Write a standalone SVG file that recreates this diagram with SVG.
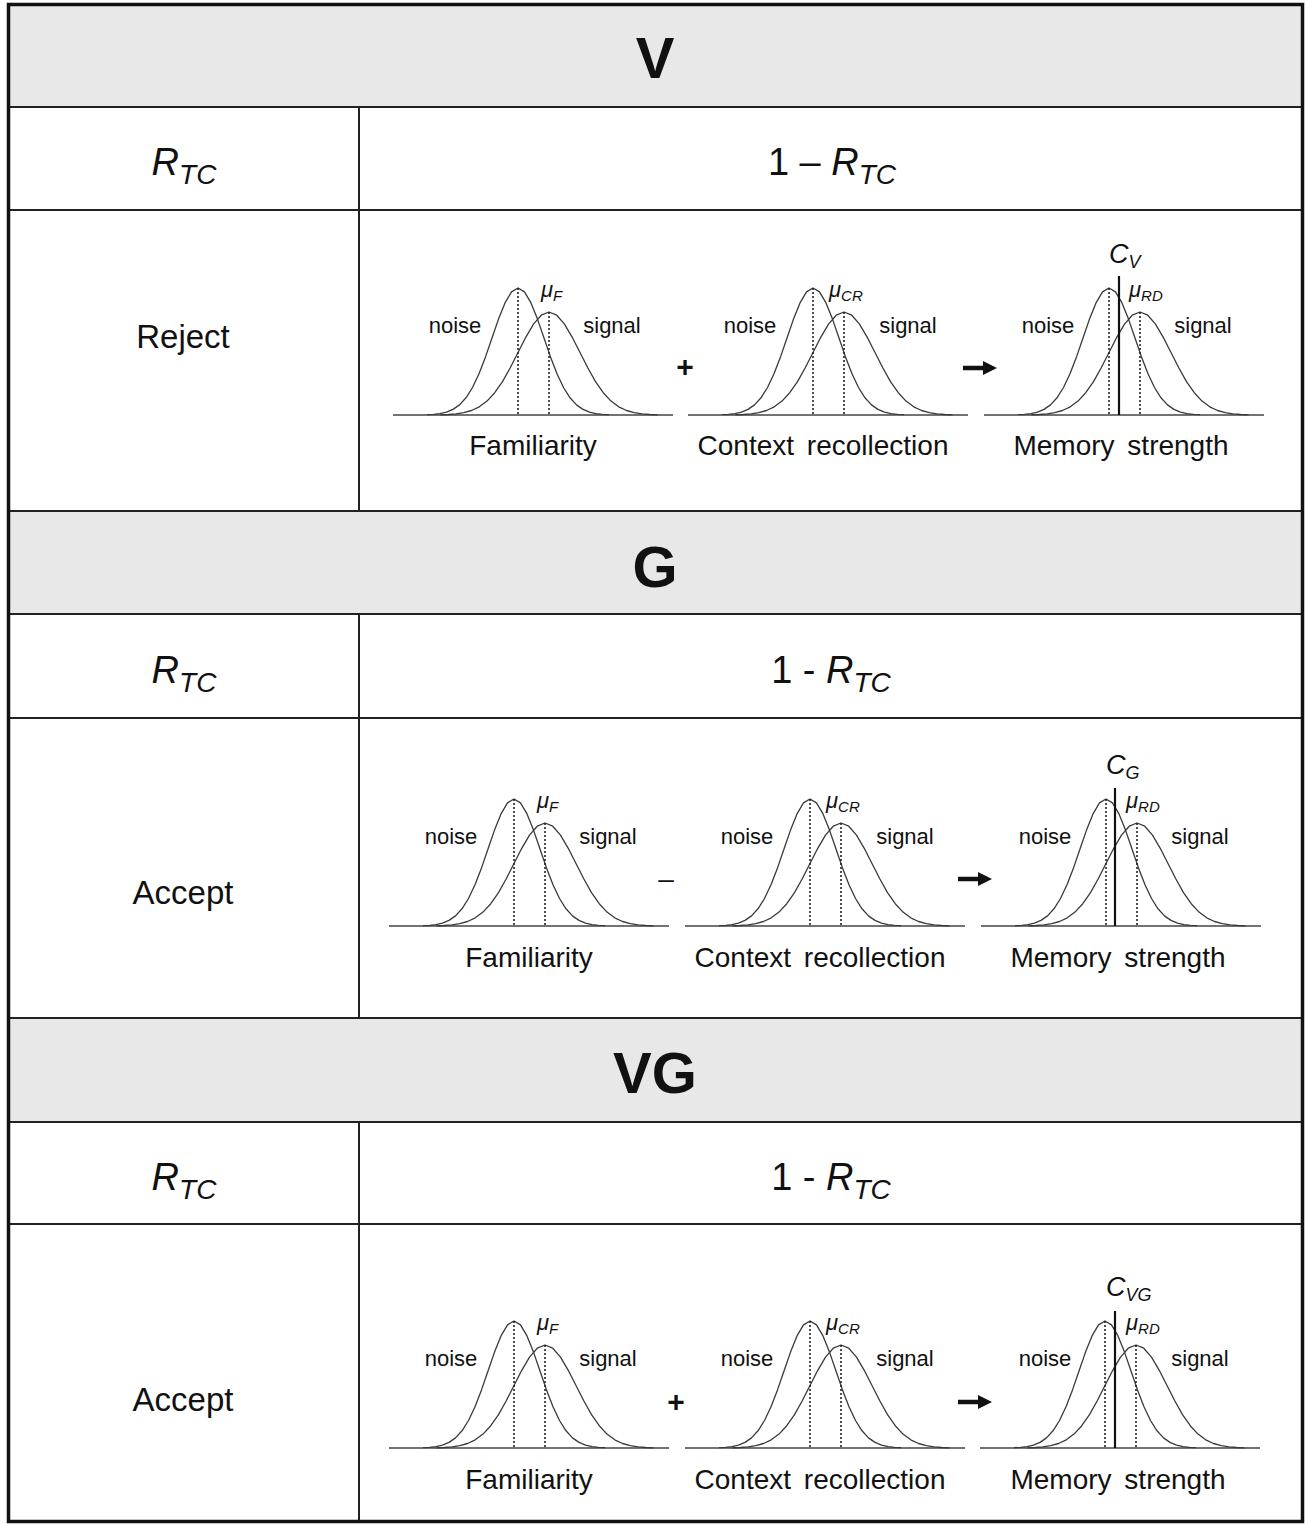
<svg xmlns="http://www.w3.org/2000/svg" xmlns:xlink="http://www.w3.org/1999/xlink" width="1307" height="1524" viewBox="0 0 1307 1524">
<style>
text{font-family:"Liberation Sans",Arial,sans-serif;fill:#111}
.hdr{font-size:58px;font-weight:bold;text-anchor:middle}
.rt{font-size:38px;font-style:italic}
.up{font-style:normal}
.sub{font-size:28px}
.row{font-size:33px;text-anchor:middle}
.ns{font-size:22px;text-anchor:middle}
.mu{font-size:22px;font-style:italic}
.mus{font-size:15px}
.cl{font-size:27px;font-style:italic}
.cls{font-size:18px}
.ax{font-size:28px;text-anchor:middle;word-spacing:5px}
.op{font-size:30px;text-anchor:middle;font-weight:bold}
.grid{stroke:#222;stroke-width:2;fill:none}
.curve{fill:none;stroke:#3a3a3a;stroke-width:1.3;stroke-linejoin:round}
.base{stroke:#444;stroke-width:1.6}
.dot{stroke:#222;stroke-width:1.6;stroke-dasharray:2 2}
.crit{stroke:#111;stroke-width:2.2}
</style>
<defs>
<g id="dist">
<line class="base" x1="-125" y1="0" x2="155" y2="0"/>
<path class="curve" d="M-91,-0.3 L-84.5,-0.6 L-78,-1.4 L-71.5,-2.9 L-65,-5.6 L-58.5,-10.1 L-52,-17.2 L-45.5,-27.5 L-39,-41.2 L-32.5,-58.1 L-26,-77 L-19.5,-95.9 L-13,-112.1 L-6.5,-123.1 L0,-127 L6.5,-123.1 L13,-112.1 L19.5,-95.9 L26,-77 L32.5,-58.1 L39,-41.2 L45.5,-27.5 L52,-17.2 L58.5,-10.1 L65,-5.6 L71.5,-2.9 L78,-1.4 L84.5,-0.6 L91,-0.3"/>
<path class="curve" d="M-77.5,-0.2 L-69.75,-0.5 L-62,-1.1 L-54.25,-2.3 L-46.5,-4.5 L-38.75,-8.2 L-31,-13.9 L-23.25,-22.3 L-15.5,-33.4 L-7.75,-47.2 L0,-62.5 L7.75,-77.7 L15.5,-90.9 L23.25,-99.8 L31,-103 L38.75,-99.8 L46.5,-90.9 L54.25,-77.7 L62,-62.5 L69.75,-47.2 L77.5,-33.4 L85.25,-22.3 L93,-13.9 L100.75,-8.2 L108.5,-4.5 L116.25,-2.3 L124,-1.1 L131.75,-0.5 L139.5,-0.2"/>
<line class="dot" x1="0" y1="-127" x2="0" y2="0"/>
<line class="dot" x1="31" y1="-103" x2="31" y2="0"/>
</g>
<marker id="ah" markerUnits="userSpaceOnUse" markerWidth="14" markerHeight="14" refX="0" refY="7" orient="auto">
<path d="M0,0 L14,7 L0,14 z" fill="#111"/>
</marker>
</defs>
<rect x="0" y="0" width="1307" height="1524" fill="#fff"/>
<g id="table">
<rect x="9" y="5" width="1293" height="102" fill="#e8e8e8"/>
<rect x="9" y="511" width="1293" height="103" fill="#e8e8e8"/>
<rect x="9" y="1018" width="1293" height="104" fill="#e8e8e8"/>
<line class="grid" x1="8" y1="107" x2="1303" y2="107"/>
<line class="grid" x1="8" y1="210" x2="1303" y2="210"/>
<line class="grid" x1="8" y1="511" x2="1303" y2="511"/>
<line class="grid" x1="8" y1="614" x2="1303" y2="614"/>
<line class="grid" x1="8" y1="718" x2="1303" y2="718"/>
<line class="grid" x1="8" y1="1018" x2="1303" y2="1018"/>
<line class="grid" x1="8" y1="1122" x2="1303" y2="1122"/>
<line class="grid" x1="8" y1="1224" x2="1303" y2="1224"/>
<line class="grid" x1="359" y1="107" x2="359" y2="511"/>
<line class="grid" x1="359" y1="614" x2="359" y2="1018"/>
<line class="grid" x1="359" y1="1122" x2="359" y2="1522"/>
<rect x="8.5" y="4.5" width="1294" height="1517" fill="none" stroke="#111" stroke-width="3.5"/>
</g>
<g id="headers">
<text class="hdr" x="655" y="78">V</text>
<text class="hdr" x="655" y="587">G</text>
<text class="hdr" x="655" y="1093">VG</text>
</g>
<g id="rtc-rows">
<text class="rt" x="184" y="175" text-anchor="middle">R<tspan class="sub" dy="9">TC</tspan></text>
<text class="rt" x="832" y="175" text-anchor="middle"><tspan class="up">1 – </tspan>R<tspan class="sub" dy="9">TC</tspan></text>
<text class="rt" x="184" y="683" text-anchor="middle">R<tspan class="sub" dy="9">TC</tspan></text>
<text class="rt" x="831" y="683" text-anchor="middle"><tspan class="up">1 - </tspan>R<tspan class="sub" dy="9">TC</tspan></text>
<text class="rt" x="184" y="1190" text-anchor="middle">R<tspan class="sub" dy="9">TC</tspan></text>
<text class="rt" x="831" y="1190" text-anchor="middle"><tspan class="up">1 - </tspan>R<tspan class="sub" dy="9">TC</tspan></text>
</g>
<g id="row-labels">
<text class="row" x="183" y="348">Reject</text>
<text class="row" x="183" y="904">Accept</text>
<text class="row" x="183" y="1411">Accept</text>
</g>
<!-- V section -->
<g id="v-familiarity" transform="translate(518,415)">
<use xlink:href="#dist"/>
<text class="ns" x="-63" y="-82">noise</text>
<text class="ns" x="94" y="-82">signal</text>
<text class="mu" x="23" y="-118">μ<tspan class="mus" dy="4">F</tspan></text>
<text class="ax" x="15" y="40">Familiarity</text>
</g>
<g id="v-context" transform="translate(813,415)">
<use xlink:href="#dist"/>
<text class="ns" x="-63" y="-82">noise</text>
<text class="ns" x="95" y="-82">signal</text>
<text class="mu" x="16" y="-118">μ<tspan class="mus" dy="4">CR</tspan></text>
<text class="ax" x="10" y="40">Context recollection</text>
</g>
<g id="v-memory" transform="translate(1109,415)">
<use xlink:href="#dist"/>
<line class="crit" x1="10" y1="-139" x2="10" y2="0"/>
<text class="ns" x="-61" y="-82">noise</text>
<text class="ns" x="94" y="-82">signal</text>
<text class="mu" x="20" y="-118">μ<tspan class="mus" dy="4">RD</tspan></text>
<text class="cl" x="0" y="-152">C<tspan class="cls" dy="5">V</tspan></text>
<text class="ax" x="12" y="40">Memory strength</text>
</g>
<!-- G section -->
<g id="g-familiarity" transform="translate(514,926)">
<use xlink:href="#dist"/>
<text class="ns" x="-63" y="-82">noise</text>
<text class="ns" x="94" y="-82">signal</text>
<text class="mu" x="23" y="-118">μ<tspan class="mus" dy="4">F</tspan></text>
<text class="ax" x="15" y="41">Familiarity</text>
</g>
<g id="g-context" transform="translate(810,926)">
<use xlink:href="#dist"/>
<text class="ns" x="-63" y="-82">noise</text>
<text class="ns" x="95" y="-82">signal</text>
<text class="mu" x="16" y="-118">μ<tspan class="mus" dy="4">CR</tspan></text>
<text class="ax" x="10" y="41">Context recollection</text>
</g>
<g id="g-memory" transform="translate(1106,926)">
<use xlink:href="#dist"/>
<line class="crit" x1="9" y1="-138" x2="9" y2="0"/>
<text class="ns" x="-61" y="-82">noise</text>
<text class="ns" x="94" y="-82">signal</text>
<text class="mu" x="20" y="-118">μ<tspan class="mus" dy="4">RD</tspan></text>
<text class="cl" x="0" y="-152">C<tspan class="cls" dy="5">G</tspan></text>
<text class="ax" x="12" y="41">Memory strength</text>
</g>
<!-- VG section -->
<g id="vg-familiarity" transform="translate(514,1448)">
<use xlink:href="#dist"/>
<text class="ns" x="-63" y="-82">noise</text>
<text class="ns" x="94" y="-82">signal</text>
<text class="mu" x="23" y="-118">μ<tspan class="mus" dy="4">F</tspan></text>
<text class="ax" x="15" y="41">Familiarity</text>
</g>
<g id="vg-context" transform="translate(810,1448)">
<use xlink:href="#dist"/>
<text class="ns" x="-63" y="-82">noise</text>
<text class="ns" x="95" y="-82">signal</text>
<text class="mu" x="16" y="-118">μ<tspan class="mus" dy="4">CR</tspan></text>
<text class="ax" x="10" y="41">Context recollection</text>
</g>
<g id="vg-memory" transform="translate(1105,1448)">
<use xlink:href="#dist"/>
<line class="crit" x1="10" y1="-137" x2="10" y2="0"/>
<text class="ns" x="-60" y="-82">noise</text>
<text class="ns" x="95" y="-82">signal</text>
<text class="mu" x="21" y="-118">μ<tspan class="mus" dy="4">RD</tspan></text>
<text class="cl" x="1" y="-152">C<tspan class="cls" dy="5">VG</tspan></text>
<text class="ax" x="13" y="41">Memory strength</text>
</g>
<g id="operators">
<text class="op" x="685" y="377">+</text>
<text class="ax" x="666" y="888">–</text>
<text class="op" x="676" y="1412">+</text>
</g>
<g id="connectors">
<line x1="963" y1="368" x2="983" y2="368" stroke="#111" stroke-width="4.5" marker-end="url(#ah)"/>
<line x1="958" y1="879" x2="978" y2="879" stroke="#111" stroke-width="4.5" marker-end="url(#ah)"/>
<line x1="958" y1="1402" x2="978" y2="1402" stroke="#111" stroke-width="4.5" marker-end="url(#ah)"/>
</g>
</svg>
